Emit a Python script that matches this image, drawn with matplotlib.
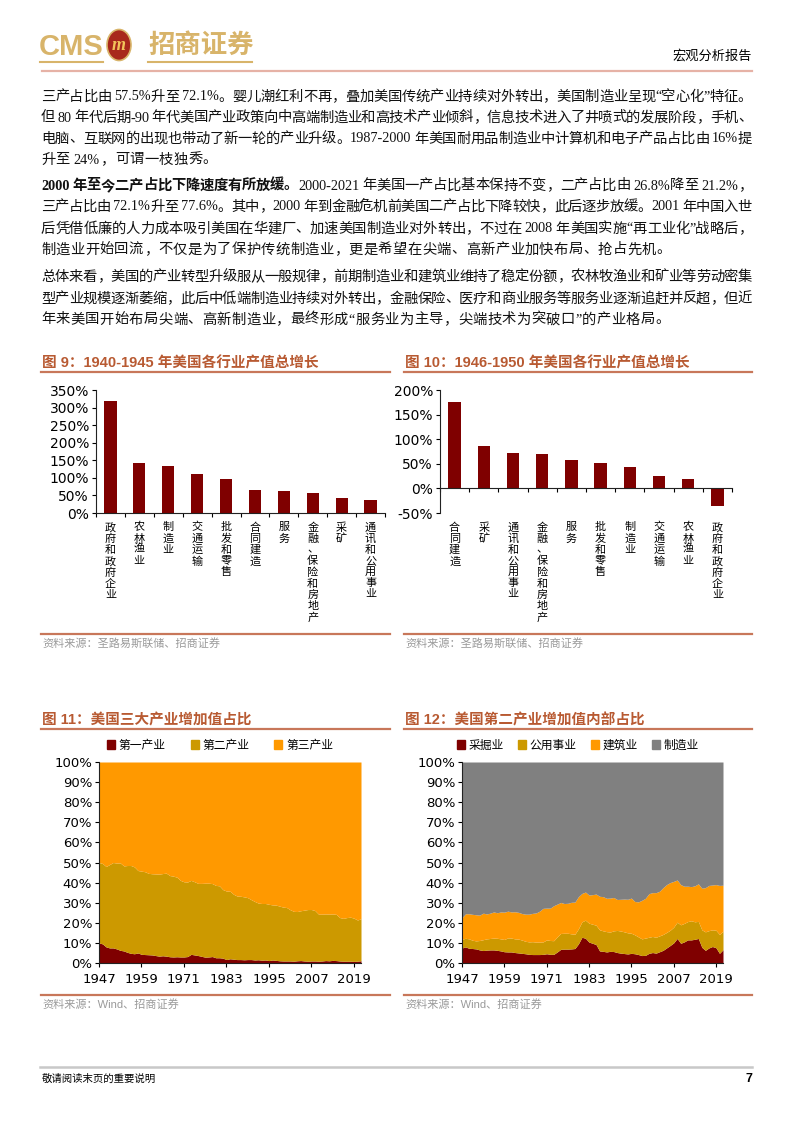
import re

import matplotlib

matplotlib.use("Agg")
import matplotlib.pyplot as plt
import matplotlib.transforms as mtransforms
import numpy as np
from matplotlib.lines import Line2D
from matplotlib.patches import Ellipse, Patch

W, H = 794, 1123
CJK = ["Noto Sans CJK SC", "DejaVu Sans"]
SERIF = ["Liberation Serif", "Noto Sans CJK SC"]
SANS = ["Liberation Sans", "Noto Sans CJK SC"]

GOLD = "#D8B46A"
TITLE_COLOR = "#B85A32"
RULE_COLOR = "#C8775A"
SOURCE_COLOR = "#9A9A9A"
MAROON = "#7F0000"
OCHRE = "#CC9900"
ORANGE = "#FF9900"
GREY = "#808080"

# ---- 正文 ----
PARAGRAPHS = [
    [
        "三产占比由 57.5%升至 72.1%。婴儿潮红利不再，叠加美国传统产业持续对外转出，美国制造业呈现“空心化”特征。",
        "但 80 年代后期-90 年代美国产业政策向中高端制造业和高技术产业倾斜，信息技术进入了井喷式的发展阶段，手机、",
        "电脑、互联网的出现也带动了新一轮的产业升级。1987-2000 年美国耐用品制造业中计算机和电子产品占比由 16%提",
        "升至 24%，可谓一枝独秀。",
    ],
    [
        "2000 年至今二产占比下降速度有所放缓。2000-2021 年美国一产占比基本保持不变，二产占比由 26.8%降至 21.2%，",
        "三产占比由 72.1%升至 77.6%。其中，2000 年到金融危机前美国二产占比下降较快，此后逐步放缓。2001 年中国入世",
        "后凭借低廉的人力成本吸引美国在华建厂、加速美国制造业对外转出，不过在 2008 年美国实施“再工业化”战略后，",
        "制造业开始回流，不仅是为了保护传统制造业，更是希望在尖端、高新产业加快布局、抢占先机。",
    ],
    [
        "总体来看，美国的产业转型升级服从一般规律，前期制造业和建筑业维持了稳定份额，农林牧渔业和矿业等劳动密集",
        "型产业规模逐渐萎缩，此后中低端制造业持续对外转出，金融保险、医疗和商业服务等服务业逐渐追赶并反超，但近",
        "年来美国开始布局尖端、高新制造业，最终形成“服务业为主导，尖端技术为突破口”的产业格局。",
    ],
]
PARAGRAPH_Y = [[97, 118, 139, 160], [186, 207, 229, 250], [277, 299, 320]]
BOLD_LEAD = "2000 年至今二产占比下降速度有所放缓。"

# ---- 图 9 ----
FIG9_LABELS = ["政府和政府企业", "农林渔业", "制造业", "交通运输", "批发和零售",
               "合同建造", "服务", "金融、保险和房地产", "采矿", "通讯和公用事业"]
FIG9_VALUES = [319, 141, 133, 110, 96, 66, 64, 56, 42, 36]

# ---- 图 10 ----
FIG10_LABELS = ["合同建造", "采矿", "通讯和公用事业", "金融、保险和房地产", "服务",
                "批发和零售", "制造业", "交通运输", "农林渔业", "政府和政府企业"]
FIG10_VALUES = [175, 86, 71, 70, 58, 52, 43, 26, 20, -36]

# ---- 图 11 / 图 12 ----
YEARS = list(range(1947, 2022))

# 图 11：第一产业占比、第一+第二产业累计占比（%）
PRIMARY = [
    10.0, 9.5, 8.0, 7.5, 7.5, 7.0, 6.3, 6.0, 5.3, 4.8,
    4.6, 5.0, 4.3, 4.2, 4.1, 4.0, 3.7, 3.4, 3.6, 3.4,
    3.1, 3.0, 3.1, 3.0, 3.0, 3.2, 4.3, 4.0, 3.7, 3.3,
    2.9, 3.0, 3.2, 2.6, 2.6, 2.4, 1.7, 2.1, 1.9, 1.7,
    1.7, 1.6, 1.7, 1.7, 1.5, 1.6, 1.4, 1.5, 1.2, 1.5,
    1.3, 1.1, 1.0, 1.0, 1.0, 0.9, 1.1, 1.2, 1.0, 0.9,
    1.0, 1.0, 0.9, 1.0, 1.2, 1.1, 1.3, 1.2, 1.0, 0.9,
    0.9, 0.9, 0.8, 0.9, 1.1,
]
PRIMARY_SECONDARY = [
    50.0, 49.5, 48.0, 49.0, 50.0, 49.7, 49.8, 48.3, 48.5, 48.5,
    47.8, 46.0, 45.7, 45.4, 44.6, 44.4, 44.3, 44.2, 44.5, 44.7,
    43.5, 43.2, 42.7, 41.1, 40.4, 40.3, 41.1, 40.4, 39.6, 39.6,
    39.7, 39.7, 39.5, 38.6, 38.4, 36.5, 35.8, 35.7, 34.2, 33.3,
    33.2, 32.9, 32.5, 31.5, 30.6, 29.8, 29.6, 29.6, 29.2, 28.9,
    28.8, 28.3, 27.8, 27.6, 26.5, 25.7, 25.6, 26.0, 26.3, 26.6,
    26.6, 26.1, 24.3, 24.3, 24.4, 24.3, 24.4, 24.2, 22.6, 22.2,
    22.6, 22.8, 22.3, 21.4, 22.0,
]

# 图 12：采掘业、+公用事业、+建筑业 的累计占比（%），其余为制造业
MINING = [
    7.5, 8.0, 7.3, 7.2, 7.0, 6.5, 6.2, 6.4, 6.5, 6.5,
    6.3, 6.0, 5.6, 5.5, 5.5, 5.2, 5.0, 4.8, 4.6, 4.3,
    4.2, 4.2, 4.2, 4.3, 4.6, 4.3, 4.3, 5.5, 6.8, 6.9,
    6.9, 7.0, 7.2, 9.5, 12.8, 12.3, 10.4, 9.8, 9.2, 6.0,
    5.8, 5.5, 5.8, 5.7, 5.2, 4.9, 4.7, 4.5, 4.8, 4.6,
    4.2, 3.7, 3.8, 4.8, 5.2, 4.9, 5.6, 6.3, 7.5, 8.7,
    10.0, 12.2, 9.8, 10.5, 11.5, 11.5, 11.8, 12.2, 7.8, 6.3,
    7.5, 8.2, 7.6, 4.8, 6.6,
]
MINING_UTIL = [
    11.8, 12.3, 12.0, 11.3, 11.0, 11.2, 11.6, 12.0, 12.2, 12.4,
    12.3, 12.0, 11.7, 12.5, 12.4, 12.0, 11.9, 11.4, 10.8, 10.5,
    10.6, 10.4, 10.4, 10.5, 11.5, 11.2, 11.1, 13.0, 14.7, 14.8,
    14.8, 14.5, 14.3, 17.0, 20.5, 21.3, 19.8, 19.3, 18.8, 16.5,
    16.0, 15.6, 15.4, 16.0, 16.2, 15.9, 15.5, 15.0, 14.8, 14.0,
    13.0, 12.0, 12.4, 12.8, 13.2, 12.8, 13.5, 14.2, 15.2, 16.3,
    17.8, 20.3, 19.0, 19.7, 20.6, 21.0, 20.5, 20.7, 16.5, 15.5,
    16.1, 16.5, 16.3, 14.2, 15.8,
]
MINING_UTIL_CONSTR = [
    22.5, 24.5, 24.5, 24.2, 24.0, 23.8, 24.8, 24.4, 24.8, 25.4,
    25.0, 25.4, 25.3, 25.8, 25.4, 25.5, 25.2, 24.6, 24.3, 24.3,
    24.7, 24.9, 25.8, 27.2, 27.3, 27.3, 28.5, 29.3, 30.1, 29.6,
    29.7, 30.2, 30.3, 33.0, 34.6, 35.3, 33.8, 34.0, 34.3, 33.2,
    33.0, 32.2, 32.3, 32.6, 31.6, 31.7, 31.8, 31.7, 32.3, 30.6,
    30.4, 31.2, 32.2, 34.5, 35.0, 35.0, 35.7, 37.5, 39.0, 40.0,
    40.6, 41.3, 39.0, 38.2, 38.2, 38.0, 38.4, 39.4, 37.2, 37.5,
    38.6, 38.8, 39.0, 38.6, 38.7,
]
YEAR_TICKS = [1947, 1959, 1971, 1983, 1995, 2007, 2019]


def fx(x):
    return x / W


def fy(y):
    return 1 - y / H


def add_box(fig, left, top, right, bottom):
    return fig.add_axes([fx(left), fy(bottom), (right - left) / W, (bottom - top) / H])


def hline(fig, x0, x1, y, color, lw):
    fig.add_artist(Line2D([fx(x0), fx(x1)], [fy(y), fy(y)], color=color, linewidth=lw))


def draw_line(fig, renderer, y, text, justify, bold_chars=0, x0=41, x1=752, size=10.3):
    """逐字排版，两端对齐。"""
    tokens = re.findall(r"[A-Za-z0-9.%\-]+| |.", text)
    items = []
    pos = 0
    for tok in tokens:
        bold = pos < bold_chars
        pos += len(tok)
        if tok == " ":
            items.append((None, size * 0.3))
            continue
        t = fig.text(0, fy(y), tok, fontsize=size, family=SERIF,
                     weight="bold" if bold else "normal", va="center", color="#111111")
        items.append((t, t.get_window_extent(renderer).width))
    total = sum(w for _, w in items)
    gap = (x1 - x0 - total) / (len(items) - 1) if justify else 0.4
    x = x0
    for t, w in items:
        if t is not None:
            t.set_x(fx(x))
        x += w + gap


def panel_frame(fig, x0, x1, title, title_y, rule_y, src_rule_y, src_y, source):
    fig.text(fx(x0 + 1), fy(title_y), title, fontsize=10.5, weight="bold",
             family=SANS, color=TITLE_COLOR, va="center")
    hline(fig, x0, x1, rule_y, RULE_COLOR, 1.6)
    hline(fig, x0, x1, src_rule_y, RULE_COLOR, 1.6)
    fig.text(fx(x0 + 1), fy(src_y), source, fontsize=8, family=SANS,
             color=SOURCE_COLOR, va="center")


def style_axes(ax, size):
    for side in ["top", "right"]:
        ax.spines[side].set_visible(False)
    for side in ["left", "bottom"]:
        ax.spines[side].set_linewidth(0.8)
        ax.spines[side].set_color("#222222")
    ax.tick_params(direction="out", length=3, width=0.8, labelsize=size, pad=2)


def bar_panel(fig, box, labels, values, ylim, yticks):
    ax = add_box(fig, *box)
    x = np.arange(len(values))
    ax.bar(x, values, width=0.42, color=MAROON)
    ax.set_xlim(-0.5, len(values) - 0.5)
    ax.set_ylim(*ylim)
    ax.set_yticks(yticks)
    ax.set_yticklabels([f"{v}%" for v in yticks])
    ax.set_xticks(np.arange(len(values) + 1) - 0.5)
    ax.set_xticklabels([])
    style_axes(ax, 10)
    if ylim[0] < 0:
        ax.spines["bottom"].set_position(("data", 0))
    trans = mtransforms.blended_transform_factory(ax.transData, ax.transAxes)
    for i, lab in enumerate(labels):
        ax.text(i, -0.075, "\n".join(lab), transform=trans, ha="center", va="top",
                fontsize=8, family=CJK, linespacing=1.13)
    return ax


def area_axes(fig, box):
    ax = add_box(fig, *box)
    ax.set_xlim(YEARS[0], YEARS[-1])
    ax.set_ylim(0, 100)
    ax.set_yticks(range(0, 101, 10))
    ax.set_yticklabels([f"{v}%" for v in range(0, 101, 10)])
    ax.set_xticks(YEAR_TICKS)
    style_axes(ax, 9.5)
    ax.tick_params(axis="x", pad=4)
    return ax


fig = plt.figure(figsize=(W / 100, H / 100), dpi=100)
renderer = fig.canvas.get_renderer()

# ---- 页眉 ----
fig.text(fx(39), fy(47), "CMS", fontsize=21, weight="bold", family=["Liberation Sans Narrow", "Liberation Sans"],
         color=GOLD, va="center")
fig.add_artist(Ellipse((fx(119), fy(45)), 24 / W, 31 / H, facecolor="#A8281C",
                       edgecolor=GOLD, linewidth=1.2))
fig.text(fx(119), fy(46), "m", fontsize=13, weight="bold", family=SERIF, style="italic",
         color="#F2C45A", ha="center", va="center")
fig.text(fx(148), fy(45), "招商证券", fontsize=19, weight="bold", family=CJK, color=GOLD, va="center")
hline(fig, 40, 103, 62, GOLD, 1.5)
hline(fig, 148, 252, 62, GOLD, 1.5)
fig.text(fx(752), fy(56), "宏观分析报告", fontsize=9.5, family=CJK, ha="right", va="center")
hline(fig, 42, 752, 71, "#E6B2A6", 1.6)

# ---- 正文 ----
for para, ys in zip(PARAGRAPHS, PARAGRAPH_Y):
    for k, (line, y) in enumerate(zip(para, ys)):
        bold = len(BOLD_LEAD) if line.startswith(BOLD_LEAD) else 0
        draw_line(fig, renderer, y, line, justify=(k < len(para) - 1), bold_chars=bold)

# ---- 图 9 ----
panel_frame(fig, 41, 390, "图 9：1940-1945 年美国各行业产值总增长", 363, 372, 634, 643,
            "资料来源：圣路易斯联储、招商证券")
bar_panel(fig, (96, 390, 385, 513), FIG9_LABELS, FIG9_VALUES, (0, 350), list(range(0, 351, 50)))

# ---- 图 10 ----
panel_frame(fig, 404, 752, "图 10：1946-1950 年美国各行业产值总增长", 363, 372, 634, 643,
            "资料来源：圣路易斯联储、招商证券")
bar_panel(fig, (440, 390, 732, 513), FIG10_LABELS, FIG10_VALUES, (-50, 200), list(range(-50, 201, 50)))

# ---- 图 11 ----
panel_frame(fig, 41, 390, "图 11：美国三大产业增加值占比", 720, 729, 995, 1004,
            "资料来源：Wind、招商证券")
ax11 = area_axes(fig, (99, 762, 361, 963))
ax11.fill_between(YEARS, 0, PRIMARY, color=MAROON, linewidth=0)
ax11.fill_between(YEARS, PRIMARY, PRIMARY_SECONDARY, color=OCHRE, linewidth=0)
ax11.fill_between(YEARS, PRIMARY_SECONDARY, 100, color=ORANGE, linewidth=0)
fig.legend(handles=[Patch(color=MAROON, label="第一产业"), Patch(color=OCHRE, label="第二产业"),
                    Patch(color=ORANGE, label="第三产业")],
           loc="center", bbox_to_anchor=(fx(220), fy(745)), ncol=3, frameon=False,
           prop={"family": CJK, "size": 8.5}, handlelength=0.7, handleheight=0.7,
           handletextpad=0.3, columnspacing=2.1)

# ---- 图 12 ----
panel_frame(fig, 404, 752, "图 12：美国第二产业增加值内部占比", 720, 729, 995, 1004,
            "资料来源：Wind、招商证券")
ax12 = area_axes(fig, (462, 762, 723, 963))
ax12.fill_between(YEARS, 0, MINING, color=MAROON, linewidth=0)
ax12.fill_between(YEARS, MINING, MINING_UTIL, color=OCHRE, linewidth=0)
ax12.fill_between(YEARS, MINING_UTIL, MINING_UTIL_CONSTR, color=ORANGE, linewidth=0)
ax12.fill_between(YEARS, MINING_UTIL_CONSTR, 100, color=GREY, linewidth=0)
fig.legend(handles=[Patch(color=MAROON, label="采掘业"), Patch(color=OCHRE, label="公用事业"),
                    Patch(color=ORANGE, label="建筑业"), Patch(color=GREY, label="制造业")],
           loc="center", bbox_to_anchor=(fx(578), fy(745)), ncol=4, frameon=False,
           prop={"family": CJK, "size": 8.5}, handlelength=0.7, handleheight=0.7,
           handletextpad=0.3, columnspacing=1.2)

# ---- 页脚 ----
hline(fig, 40, 752, 1067, "#C8C8C8", 1.8)
fig.text(fx(42), fy(1079), "敬请阅读末页的重要说明", fontsize=7.5, family=CJK, va="center")
fig.text(fx(752), fy(1079), "7", fontsize=9, weight="bold", family=SANS, ha="right", va="center")

fig.savefig("out.png", dpi=100)
